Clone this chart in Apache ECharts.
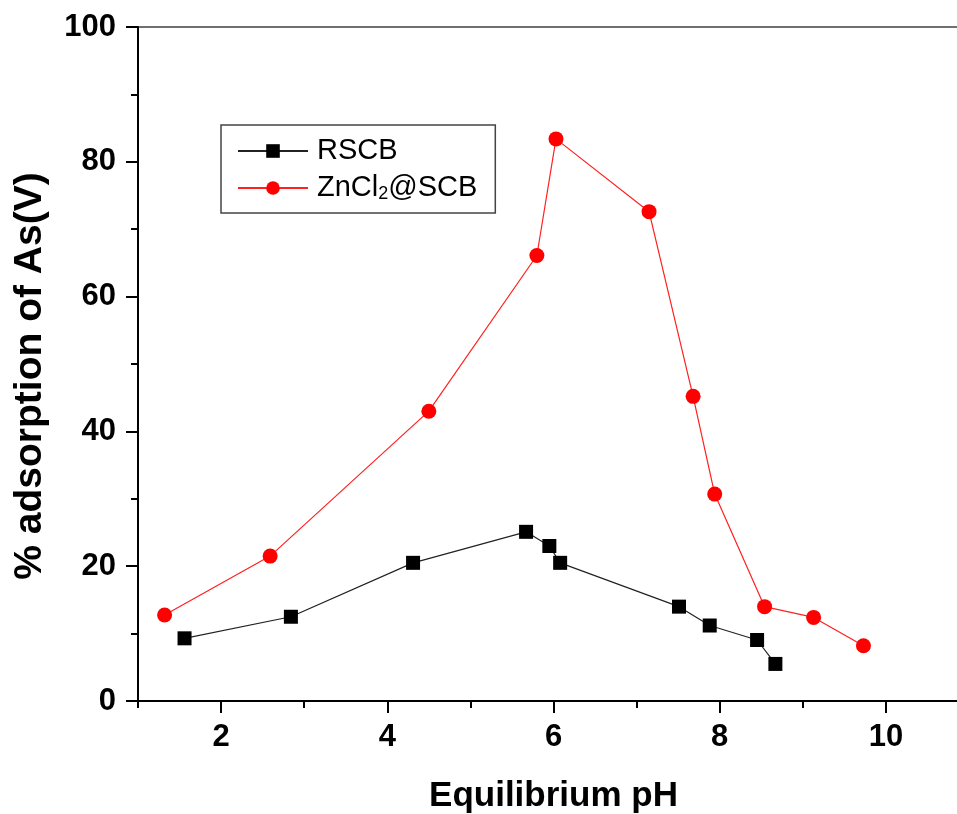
<!DOCTYPE html>
<html>
<head>
<meta charset="utf-8">
<script src="https://cdn.jsdelivr.net/npm/echarts@6/dist/echarts.min.js"></script>
<style>html,body{margin:0;padding:0;background:#fff}#c{width:957px;height:814px}</style>
</head>
<body>
<div id="c"></div>
<script>
// RSCB series (equilibrium pH, % adsorption)
const rscbPH  = [1.56, 2.84, 4.31, 5.67, 5.95, 6.08, 7.51, 7.88, 8.45, 8.67];
const rscbAds = [9.3, 12.5, 20.5, 25.1, 23.0, 20.5, 14.0, 11.2, 9.05, 5.5];
// ZnCl2@SCB series
const znPH  = [1.32, 2.59, 4.50, 5.80, 6.03, 7.15, 7.68, 7.94, 8.54, 9.13, 9.73];
const znAds = [12.75, 21.5, 43.0, 66.1, 83.4, 72.6, 45.2, 30.7, 14.0, 12.4, 8.2];
const xTickLabels = [2, 4, 6, 8, 10];
const xMinorTicks = [1, 3, 5, 7, 9, 11];
const yTickLabels = [0, 20, 40, 60, 80, 100];

const FONT = 'Liberation Sans, Arial, sans-serif';
const pair = (xs, ys) => xs.map((x, i) => [x, ys[i]]);

const chart = echarts.init(document.getElementById('c'));
chart.setOption({
  animation: false,
  backgroundColor: '#fff',
  grid: {
    left: 138, top: 27, width: 831, height: 674,
    outerBoundsMode: 'none', containLabel: false,
    show: true, borderColor: '#707070', borderWidth: 2, backgroundColor: 'transparent'
  },
  legend: {
    left: 221, top: 125,
    orient: 'vertical',
    itemWidth: 70, itemHeight: 17, itemGap: 7,
    padding: [11, 18, 10, 16],
    borderColor: '#444', borderWidth: 1.5, borderRadius: 0,
    textStyle: {
      fontFamily: FONT, fontSize: 29, color: '#000', lineHeight: 30, padding: [0, 0, 0, 4],
      rich: { sub: { fontFamily: FONT, fontSize: 18, color: '#000', verticalAlign: 'bottom', padding: [16, 0, 0, 0] } }
    },
    formatter: function (name) {
      if (name === 'ZnCl2@SCB') return 'ZnCl{sub|2}@SCB';
      return name;
    },
    data: ['RSCB', 'ZnCl2@SCB']
  },
  xAxis: [{
    type: 'value', min: 1, max: 11,
    name: 'Equilibrium pH', nameLocation: 'middle', nameGap: 78,
    nameTextStyle: { fontFamily: FONT, fontWeight: 'bold', fontSize: 35, color: '#000' },
    axisLine: { show: true, onZero: false, lineStyle: { color: '#000', width: 2 } },
    axisTick: { show: true, customValues: xMinorTicks, length: 7, inside: false, lineStyle: { color: '#000', width: 2 } },
    axisLabel: {
      customValues: xTickLabels,
      fontFamily: FONT, fontWeight: 'bold', fontSize: 31, color: '#000', margin: 21
    },
    splitLine: { show: false }
  }, {
    type: 'value', min: 1, max: 11, position: 'bottom',
    axisLine: { show: false },
    axisTick: { show: true, customValues: xTickLabels, length: 12, lineStyle: { color: '#000', width: 2 } },
    axisLabel: { show: false },
    splitLine: { show: false }
  }],
  yAxis: {
    type: 'value', min: 0, max: 100, interval: 20,
    name: '% adsorption of As(V)', nameLocation: 'middle', nameGap: 88, nameRotate: 90,
    nameTextStyle: { fontFamily: FONT, fontWeight: 'bold', fontSize: 39, color: '#000', padding: [0, 0, 0, -24] },
    axisLine: { show: true, onZero: false, lineStyle: { color: '#000', width: 2 } },
    axisTick: { show: true, length: 12, lineStyle: { color: '#000', width: 2 } },
    minorTick: { show: true, splitNumber: 2, length: 7, lineStyle: { color: '#000', width: 2 } },
    axisLabel: {
      customValues: yTickLabels,
      fontFamily: FONT, fontWeight: 'bold', fontSize: 31, color: '#000', margin: 22
    },
    splitLine: { show: false }
  },
  series: [{
    name: 'RSCB', type: 'line', xAxisIndex: 0,
    data: pair(rscbPH, rscbAds),
    symbol: 'rect', symbolSize: 14,
    lineStyle: { color: '#222', width: 1.2 },
    itemStyle: { color: '#000' }
  }, {
    name: 'ZnCl2@SCB', type: 'line', xAxisIndex: 0,
    data: pair(znPH, znAds),
    symbol: 'circle', symbolSize: 15,
    lineStyle: { color: '#ff2020', width: 1.2 },
    itemStyle: { color: '#ff0000' }
  }]
});
</script>
</body>
</html>
